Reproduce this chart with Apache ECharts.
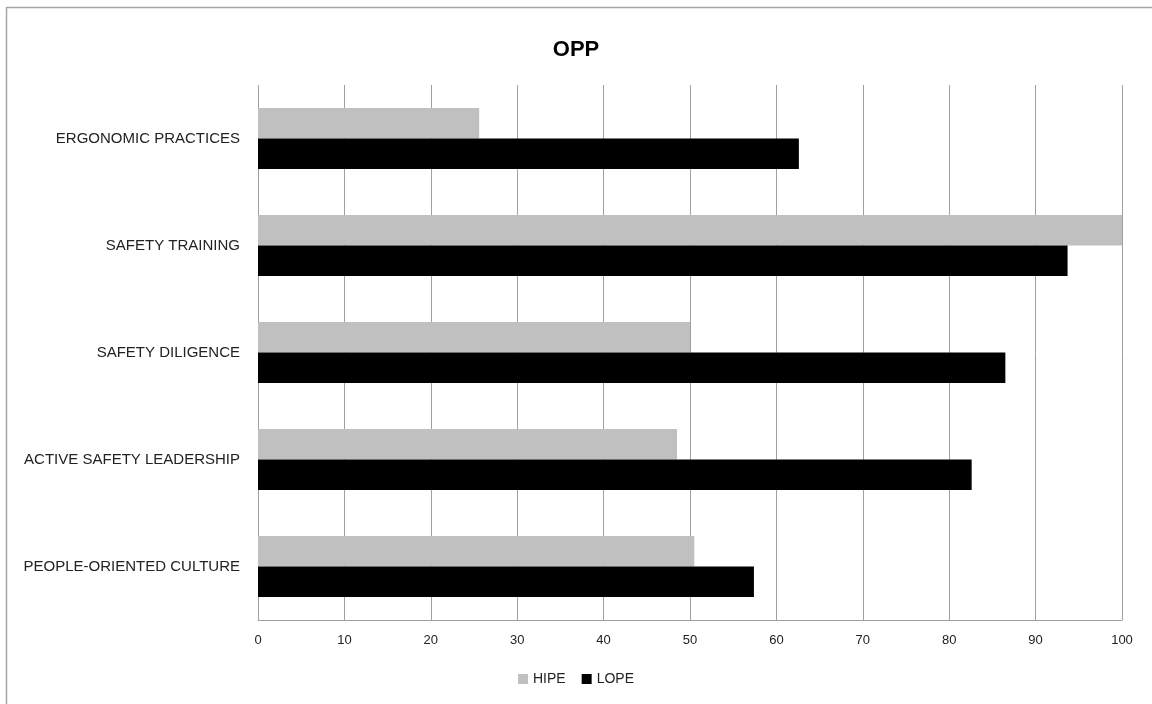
<!DOCTYPE html>
<html>
<head>
<meta charset="utf-8">
<script src="https://cdn.jsdelivr.net/npm/echarts@6/dist/echarts.min.js"></script>
<style>
html,body{margin:0;padding:0;background:#fff;}
#chart{width:1152px;height:704px;}
</style>
</head>
<body>
<div id="chart"></div>
<script>
const categories = ['ERGONOMIC PRACTICES', 'SAFETY TRAINING', 'SAFETY DILIGENCE', 'ACTIVE SAFETY LEADERSHIP', 'PEOPLE-ORIENTED CULTURE'];
const hipeValues = [25.6, 100, 50.0, 48.5, 50.5];
const lopeValues = [62.6, 93.7, 86.5, 82.6, 57.4];
const seriesNames = ['HIPE', 'LOPE'];
const xTicks = [0, 10, 20, 30, 40, 50, 60, 70, 80, 90, 100];

const FONT = 'Liberation Sans';
const chart = echarts.init(document.getElementById('chart'), null, {renderer: 'canvas'});
chart.setOption({
  animation: false,
  backgroundColor: '#ffffff',
  title: {
    text: 'OPP',
    left: 'center',
    top: 34,
    textStyle: {fontFamily: FONT, fontSize: 22, fontWeight: 'bold', color: '#000'}
  },
  graphic: [{
    type: 'rect',
    shape: {x: 6.5, y: 7.5, width: 1300, height: 900},
    style: {fill: 'none', stroke: '#a6a6a6', lineWidth: 1.5},
    silent: true, z: -1
  }],
  legend: {
    data: seriesNames,
    bottom: 13,
    left: 'center',
    itemWidth: 10,
    itemHeight: 10,
    itemGap: 16,
    icon: 'rect',
    textStyle: {fontFamily: FONT, fontSize: 14, color: '#222'}
  },
  grid: {left: 258, right: 30, top: 85, bottom: 84, containLabel: false},
  xAxis: {
    type: 'value',
    min: xTicks[0],
    max: xTicks[xTicks.length - 1],
    interval: 10,
    axisLine: {show: true, lineStyle: {color: '#a0a0a0', width: 1}},
    axisTick: {show: false},
    axisLabel: {fontFamily: FONT, fontSize: 13, color: '#222', margin: 14},
    splitLine: {show: true, lineStyle: {color: '#a0a0a0', width: 1}}
  },
  yAxis: {
    type: 'category',
    data: categories,
    inverse: true,
    axisLine: {show: false},
    axisTick: {show: false},
    axisLabel: {fontFamily: FONT, fontSize: 15, color: '#222', margin: 18},
    splitLine: {show: false}
  },
  series: [
    {name: seriesNames[0], type: 'bar', data: hipeValues, barGap: '0%', barCategoryGap: '43%',
     itemStyle: {color: '#c0c0c0'}},
    {name: seriesNames[1], type: 'bar', data: lopeValues, barGap: '0%', barCategoryGap: '43%',
     itemStyle: {color: '#000000'}}
  ]
});
</script>
</body>
</html>
